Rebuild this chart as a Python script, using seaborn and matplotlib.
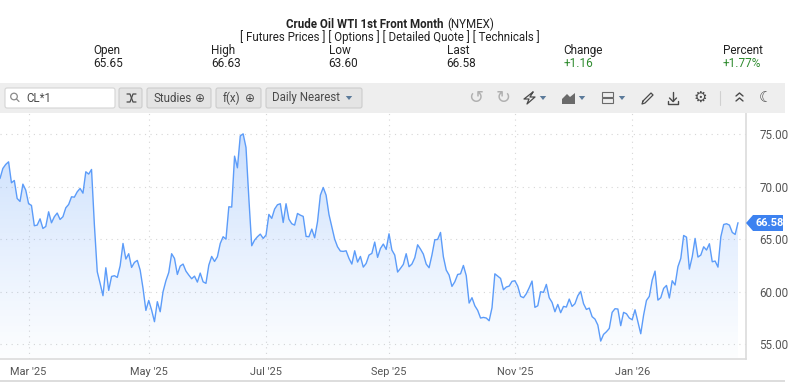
import numpy as np
import pandas as pd
import matplotlib
matplotlib.use('Agg')
import matplotlib.pyplot as plt
from matplotlib.patches import Rectangle, FancyBboxPatch, Polygon, Circle
import seaborn as sns

# Front month settle per session
prices = [
    70.80, 71.76, 72.14, 72.39, 70.39, 70.61, 68.89, 68.61, 70.26, 69.69, 68.39, 68.23, 66.29, 66.35, 66.95, 66.03,
    66.22, 67.62, 66.57, 67.15, 67.50, 66.89, 67.15, 68.00, 68.32, 69.05, 69.02, 69.53, 69.85, 69.40, 71.44, 71.22,
    71.66, 66.35, 61.90, 60.79, 59.61, 62.28, 60.12, 61.45, 61.52, 61.36, 62.47, 64.60, 63.11, 63.62, 62.31, 62.79,
    62.98, 62.06, 60.31, 58.21, 59.16, 58.24, 57.13, 59.04, 58.08, 59.99, 61.04, 61.83, 63.62, 63.17, 61.64, 62.44,
    62.63, 61.96, 61.58, 61.23, 61.48, 60.91, 61.77, 60.94, 60.79, 62.53, 63.36, 62.88, 63.33, 64.60, 65.24, 65.01,
    68.10, 68.07, 72.93, 71.82, 74.87, 75.06, 73.76, 68.89, 64.38, 64.92, 65.24, 65.49, 65.08, 65.40, 67.37,
    66.99, 67.88, 68.29, 68.39, 66.60, 68.39, 66.92, 66.48, 66.35, 67.46, 67.30, 67.18, 65.27, 65.24, 65.97, 65.14,
    66.67, 69.21, 69.94, 69.21, 67.37, 66.19, 65.01, 64.28, 63.87, 63.84, 63.90, 63.17, 62.63, 63.90, 62.82, 63.36,
    62.34, 62.69, 63.49, 63.65, 64.73, 63.27, 64.12, 64.54, 64.03, 65.52, 63.97, 63.49, 61.87, 62.22, 62.60, 63.62,
    62.38, 62.63, 63.23, 64.47, 64.06, 63.58, 62.63, 62.28, 63.49, 64.95, 64.98, 65.65, 63.33, 62.06, 61.58, 60.50,
    60.94, 61.64, 61.70, 62.50, 61.52, 58.91, 59.42, 58.65, 58.21, 57.48, 57.54, 57.48, 57.22, 58.46, 61.70, 61.48,
    61.26, 60.18, 60.44, 60.53, 60.98, 61.04, 60.53, 59.55, 59.42, 59.80, 60.37,
    61.01, 58.50, 58.65, 59.99, 59.93, 60.69, 59.42, 58.97, 58.08, 58.78, 57.99, 58.59, 58.53, 59.29, 58.59, 58.85,
    59.61, 60.02, 58.85, 58.30, 58.43, 57.61, 57.38, 56.81, 55.28, 55.92, 56.17, 56.49, 58.02, 58.37, 58.34, 56.75,
    58.02, 57.89, 57.48, 57.32, 58.27, 57.13, 55.98, 57.76, 59.16, 59.55, 61.10, 61.96, 59.19, 59.42, 60.31, 60.59,
    59.39, 61.04, 60.63, 62.38, 63.17, 65.36, 65.20, 62.15, 63.33, 65.08, 63.30, 63.49, 64.28, 63.97, 64.57, 62.85,
    62.92, 62.34, 65.24, 66.41, 66.48, 66.35, 65.65, 65.46, 66.58,
]
month_labels = ["Mar '25", "May '25", "Jul '25", "Sep '25", "Nov '25", "Jan '26"]
month_sessions = [10, 52, 93, 136, 180, 221]
price_ticks = [55, 60, 65, 70, 75]

title_bold = 'Crude Oil WTI 1st Front Month'
links = '[ Futures Prices ] [ Options ] [ Detailed Quote ] [ Technicals ]'
quote_names = ['Open', 'High', 'Low', 'Last', 'Change', 'Percent']
quote_values = ['65.65', '66.63', '63.60', '66.58', '+1.16', '+1.77%']
quote_x = [93.5, 211.5, 328.5, 446.5, 563.5, 722.5]

W, H = 800, 383
BLUE = '#5c9cf9'
GREY = '#4a4a4a'

sns.set_style('white')
plt.rcParams['font.family'] = ['Roboto', 'DejaVu Sans']

fig = plt.figure(figsize=(W / 100, H / 100), dpi=100)

# chart area in pixels: x 0-746, y 113-359
ax = fig.add_axes([0, 1 - 359 / H, 746 / W, 246 / H])
df = pd.DataFrame({'session': np.arange(len(prices)), 'price': prices})
pitch = 738 / (len(prices) - 1)

grad = np.linspace(0, 1, 256).reshape(-1, 1)
colors = np.zeros((256, 1, 4))
colors[..., 0] = 0.36
colors[..., 1] = 0.61
colors[..., 2] = 0.98
colors[..., 3] = 0.30 * (1 - grad) ** 1.1 + 0.015
img = ax.imshow(colors, extent=[0, len(prices) - 1, 53.57, 75.1], origin='upper', aspect='auto', zorder=1)
poly = ax.fill_between(df['session'], df['price'], 53.57, color='none')
img.set_clip_path(poly.get_paths()[0], transform=ax.transData)

sns.lineplot(data=df, x='session', y='price', ax=ax, color=BLUE, lw=1.0, zorder=3)
ax.set_xlim(0, 746 / pitch)
ax.set_ylim(53.57, 77.05)

ax.set_xticks(month_sessions)
ax.set_xticklabels(month_labels, fontsize=7.9, color='#555555')
ax.yaxis.tick_right()
ax.set_yticks(price_ticks)
ax.set_yticklabels(['%.2f' % p for p in price_ticks], fontsize=8.4, color='#555555')
ax.set_xlabel('')
ax.set_ylabel('')
ax.tick_params(axis='x', length=3, color='#d5d5d5', pad=3)
ax.tick_params(axis='y', length=0, pad=9.5)
ax.grid(True, ls=(0, (1, 4)), lw=0.8, color='#d6d6d6', zorder=0)
for side in ['top', 'left']:
    ax.spines[side].set_visible(False)
for side in ['bottom', 'right']:
    ax.spines[side].set_color('#dcdcdc')
    ax.spines[side].set_linewidth(1.2)

# overlay in pixel coords for the header and toolbar
ov = fig.add_axes([0, 0, 1, 1], facecolor='none')
ov.set_xlim(0, W)
ov.set_ylim(H, 0)
ov.axis('off')

ov.text(443, 24.5, title_bold, fontsize=8.3, fontweight='bold', color='#222222', va='center', ha='right')
ov.text(447, 24.5, '(NYMEX)', fontsize=8.3, color='#222222', va='center', ha='left')
ov.text(390, 37, links, fontsize=8.3, color='#222222', va='center', ha='center')
for i in range(len(quote_names)):
    ov.text(quote_x[i], 50.5, quote_names[i], fontsize=8.5, color='#222222', va='center')
    c = '#2e8b2e' if quote_values[i][0] == '+' else '#222222'
    ov.text(quote_x[i], 63.5, quote_values[i], fontsize=8.5, color=c, va='center')

# toolbar
ov.add_patch(Rectangle((0, 83), 785, 30, fc='#eeeeee', ec='none'))
ov.add_patch(Rectangle((0, 380), 785, 1.5, fc='#dddddd', ec='none'))
ov.add_patch(FancyBboxPatch((5, 88), 110, 20, boxstyle='round,pad=0,rounding_size=2', fc='white', ec='#d4d4d4', lw=0.8))
ov.add_patch(Circle((14, 96.5), 3.3, fc='none', ec='#8a8a8a', lw=0.9))
ov.plot([16.5, 19], [99, 101.5], color='#8a8a8a', lw=0.9)
ov.text(26, 98, 'CL*1', fontsize=8.3, color=GREY, va='center')

buttons = [(119, 23), (147, 64), (216, 45), (266, 96)]
for bx, bw in buttons:
    ov.add_patch(FancyBboxPatch((bx, 88), bw, 20, boxstyle='round,pad=0,rounding_size=2',
                                fc='#e4e4e4', ec='#cccccc', lw=0.8))
# shuffle icon, no installed font has it
ov.plot([127, 130, 133, 136], [94, 94, 102, 102], color=GREY, lw=0.9)
ov.plot([127, 130, 133, 136], [102, 102, 94, 94], color=GREY, lw=0.9)
ov.text(153, 98, 'Studies', fontsize=8.3, color=GREY, va='center')
ov.text(200, 98, '⊕', fontsize=8.5, color=GREY, va='center', ha='center', family='DejaVu Sans')
ov.text(223, 98, 'f(x)', fontsize=8.3, color=GREY, va='center')
ov.text(250, 98, '⊕', fontsize=8.5, color=GREY, va='center', ha='center', family='DejaVu Sans')
ov.text(272, 98, 'Daily Nearest', fontsize=8.3, color=GREY, va='center')


def caret(x, col='#5b7a9a'):
    ov.add_patch(Polygon([(x - 3.2, 96), (x + 3.2, 96), (x, 100)], fc=col, ec='none'))


caret(349)
caret(543)
caret(582)
caret(622)
ov.text(476, 97.5, '↺', fontsize=13, color='#b0b0b0', va='center', ha='center', family='DejaVu Sans')
ov.text(503, 97.5, '↻', fontsize=13, color='#b0b0b0', va='center', ha='center', family='DejaVu Sans')
ov.plot([533, 524, 529, 527, 535, 530, 533], [92, 99, 99, 104, 97, 97, 92], color=GREY, lw=0.9)
ov.add_patch(Polygon([(562, 104), (562, 99), (567, 94), (570, 97), (575, 93), (575, 104)], fc='#6a6a6a', ec='none'))
for py in [92, 98]:
    ov.add_patch(Rectangle((602, py), 11, 5, fc='#eeeeee', ec='#6a6a6a', lw=0.8))
ov.plot([643, 651, 653, 645, 642, 643], [101, 93, 95, 103, 104, 101], color=GREY, lw=0.9)
ov.plot([673, 673], [92, 101], color=GREY, lw=1)
ov.plot([669.5, 673, 676.5], [98, 101.5, 98], color=GREY, lw=1)
ov.plot([668, 668, 678, 678], [101, 104, 104, 101], color=GREY, lw=1)
ov.text(700, 97.5, '⚙', fontsize=11, color=GREY, va='center', ha='center', family='DejaVu Sans')
ov.plot([719.5, 719.5], [91, 105], color='#d0d0d0', lw=0.8)
ov.plot([736, 739.5, 743], [96, 93, 96], color=GREY, lw=1)
ov.plot([736, 739.5, 743], [101, 98, 101], color=GREY, lw=1)
ov.text(766, 97.5, '☾', fontsize=11, color=GREY, va='center', ha='center', family='DejaVu Sans')

# last price flag
ov.add_patch(Polygon([(746, 223), (753, 215), (783, 215), (783, 231), (753, 231)], fc='#3d82f0', ec='none'))
ov.text(755, 223, '66.58', fontsize=7.9, fontweight='bold', color='white', va='center')

fig.savefig('out.png', dpi=100)
